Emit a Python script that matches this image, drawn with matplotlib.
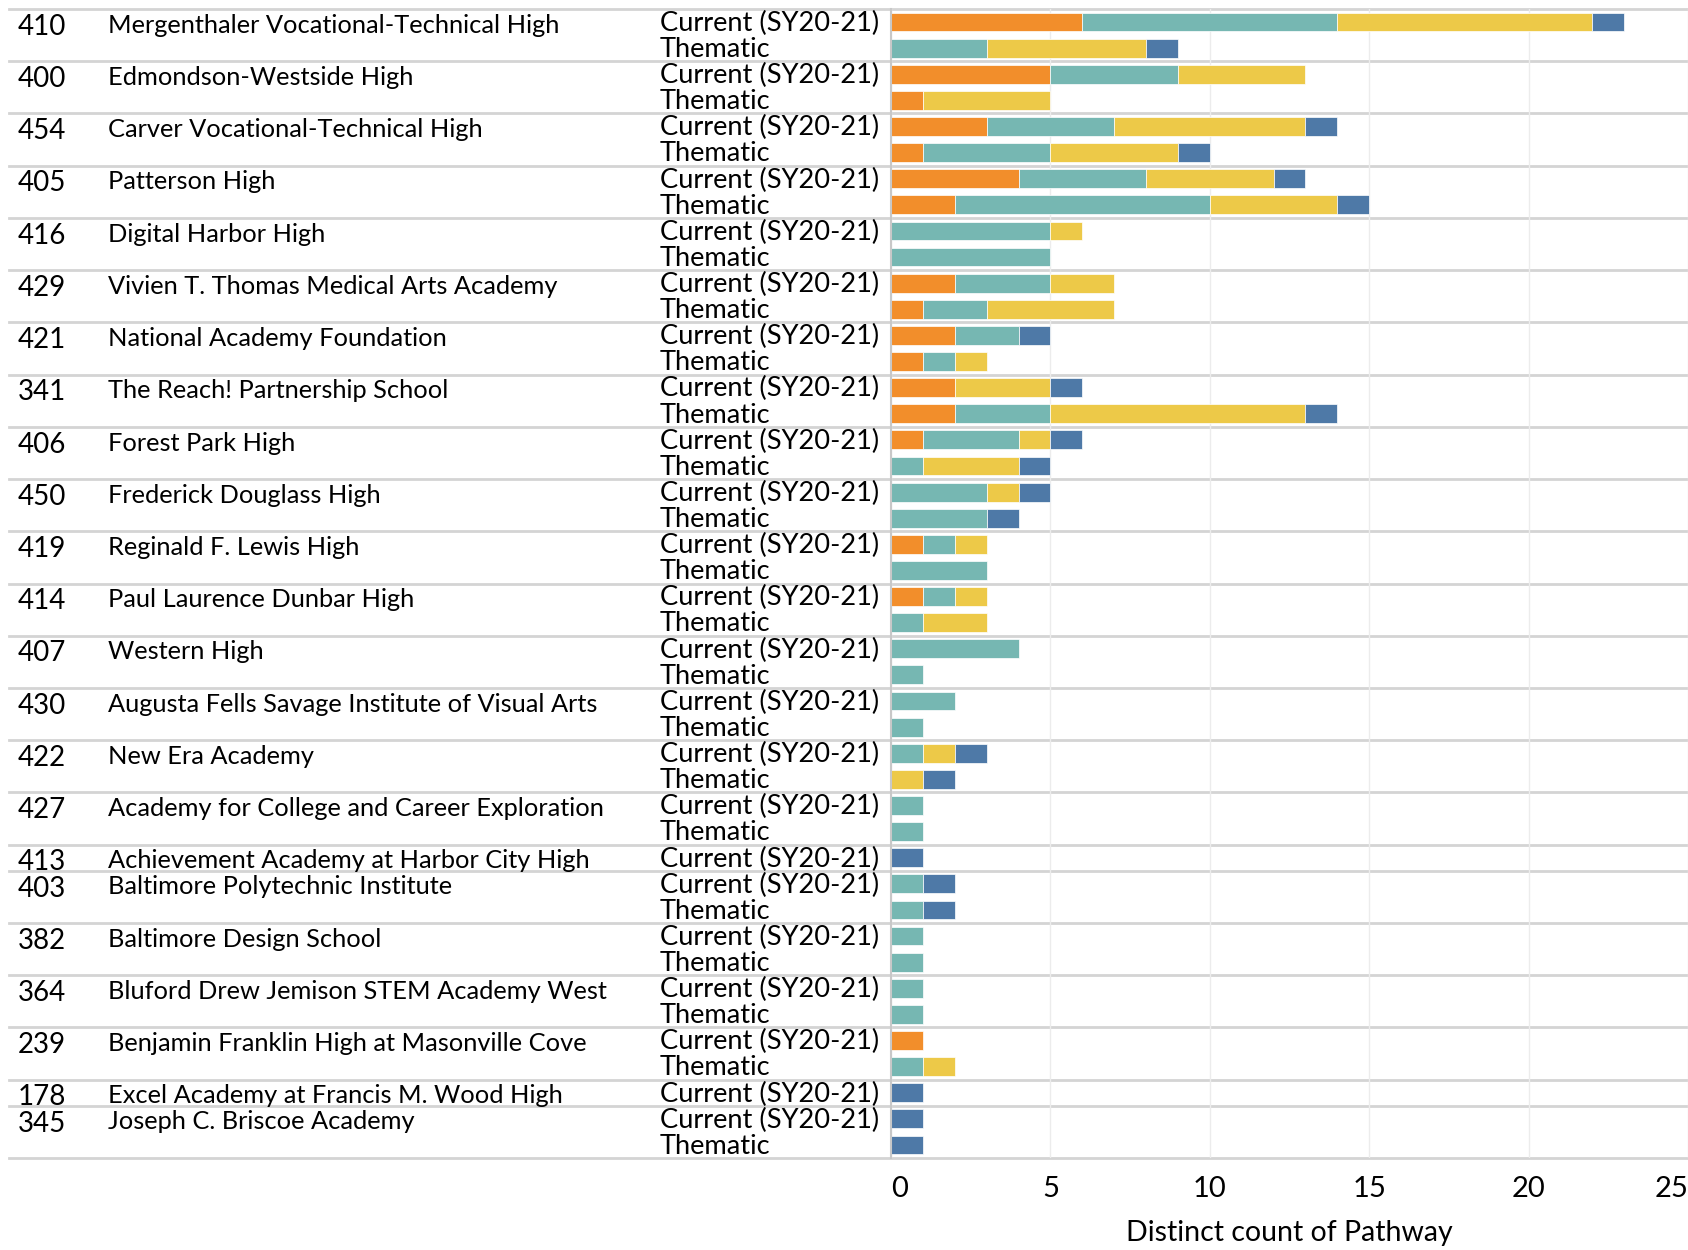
import numpy as np
import matplotlib.pyplot as plt
from matplotlib.transforms import blended_transform_factory

# ---------------------------------------------------------------------------
# Data
# ---------------------------------------------------------------------------
school_ids = ["410", "400", "454", "405", "416", "429", "421", "341", "406", "450",
              "419", "414", "407", "430", "422", "427", "413", "403", "382", "364",
              "239", "178", "345"]
school_names = [
    "Mergenthaler Vocational-Technical High",
    "Edmondson-Westside High",
    "Carver Vocational-Technical High",
    "Patterson High",
    "Digital Harbor High",
    "Vivien T. Thomas Medical Arts Academy",
    "National Academy Foundation",
    "The Reach! Partnership School",
    "Forest Park High",
    "Frederick Douglass High",
    "Reginald F. Lewis High",
    "Paul Laurence Dunbar High",
    "Western High",
    "Augusta Fells Savage Institute of Visual Arts",
    "New Era Academy",
    "Academy for College and Career Exploration",
    "Achievement Academy at Harbor City High",
    "Baltimore Polytechnic Institute",
    "Baltimore Design School",
    "Bluford Drew Jemison STEM Academy West",
    "Benjamin Franklin High at Masonville Cove",
    "Excel Academy at Francis M. Wood High",
    "Joseph C. Briscoe Academy",
]
has_thematic = [True] * 16 + [False] + [True] * 4 + [False, True]

# current (SY20-21) segments
cur_orange = [6, 5, 3, 4, 0, 2, 2, 2, 1, 0, 1, 1, 0, 0, 0, 0, 0, 0, 0, 0, 1, 0, 0]
cur_teal   = [8, 4, 4, 4, 5, 3, 2, 0, 3, 3, 1, 1, 4, 2, 1, 1, 0, 1, 1, 1, 0, 0, 0]
cur_yellow = [8, 4, 6, 4, 1, 2, 0, 3, 1, 1, 1, 1, 0, 0, 1, 0, 0, 0, 0, 0, 0, 0, 0]
cur_blue   = [1, 0, 1, 1, 0, 0, 1, 1, 1, 1, 0, 0, 0, 0, 1, 0, 1, 1, 0, 0, 0, 1, 1]

# thematic segments
thm_orange = [0, 1, 1, 2, 0, 1, 1, 2, 0, 0, 0, 0, 0, 0, 0, 0, 0, 0, 0, 0, 0, 0, 0]
thm_teal   = [3, 0, 4, 8, 5, 2, 1, 3, 1, 3, 3, 1, 1, 1, 0, 1, 0, 1, 1, 1, 1, 0, 0]
thm_yellow = [5, 4, 4, 4, 0, 4, 1, 8, 3, 0, 0, 2, 0, 0, 1, 0, 0, 0, 0, 0, 1, 0, 0]
thm_blue   = [1, 0, 1, 1, 0, 0, 0, 1, 1, 1, 0, 0, 0, 0, 1, 0, 0, 1, 0, 0, 0, 0, 1]

colors = ["#F28E2B", "#76B7B2", "#EDC948", "#4E79A7"]
x_ticks = [0, 5, 10, 15, 20, 25]

# ---------------------------------------------------------------------------
# Plot
# ---------------------------------------------------------------------------
plt.rcParams["font.family"] = ["Lato", "DejaVu Sans"]
W, H = 1688, 1250
fig = plt.figure(figsize=(W / 100, H / 100), dpi=100)

left_px, right_px, top_px, bot_px = 891, 1688, 9, 1158
ax = fig.add_axes([left_px / W, 1 - bot_px / H, (right_px - left_px) / W, (bot_px - top_px) / H])

cur = np.array([cur_orange, cur_teal, cur_yellow, cur_blue]).T
thm = np.array([thm_orange, thm_teal, thm_yellow, thm_blue]).T

tr = blended_transform_factory(fig.transFigure, ax.transData)
sep_color = "#d4d4d4"

y = 0
boundaries = [0]
for i, sid in enumerate(school_ids):
    rows = [("Current (SY20-21)", cur[i])]
    if has_thematic[i]:
        rows.append(("Thematic", thm[i]))
    ax.text(18 / W, y + 0.68, sid, transform=tr, ha="left", va="center",
            fontsize=20, clip_on=False)
    ax.text(108 / W, y + 0.62, school_names[i], transform=tr, ha="left", va="center",
            fontsize=18.3, clip_on=False)
    for label, vals in rows:
        yc = y + 0.5
        ax.text(660 / W, yc + 0.05, label, transform=tr, ha="left", va="center",
                fontsize=19.6, clip_on=False)
        start = 0
        for v, c in zip(vals, colors):
            if v > 0:
                ax.barh(yc, v, left=start, height=0.72, color=c,
                        edgecolor="white", linewidth=0.5)
            start += v
        y += 1
    boundaries.append(y)

n_rows = y
ax.set_ylim(n_rows, 0)
ax.set_xlim(0, 25)

for b in boundaries:
    ax.plot([9 / W, 1.0], [b, b], transform=tr, color=sep_color, lw=2,
            clip_on=False, zorder=0)

ax.set_xticks(x_ticks)
ax.set_xticklabels([str(t) for t in x_ticks], fontsize=21)
ax.tick_params(axis="x", length=0, pad=13)
tl = ax.get_xticklabels()
tl[0].set_ha("left")
tl[-1].set_ha("right")
ax.set_yticks([])
ax.grid(axis="x", color="#ececec", lw=1)
ax.set_axisbelow(True)
for s in ["top", "right", "bottom"]:
    ax.spines[s].set_visible(False)
ax.spines["left"].set_color("#c8c8c8")
ax.spines["left"].set_linewidth(1.5)
ax.set_xlabel("Distinct count of Pathway", fontsize=20.5, labelpad=13)

fig.savefig("out.png", dpi=100)
